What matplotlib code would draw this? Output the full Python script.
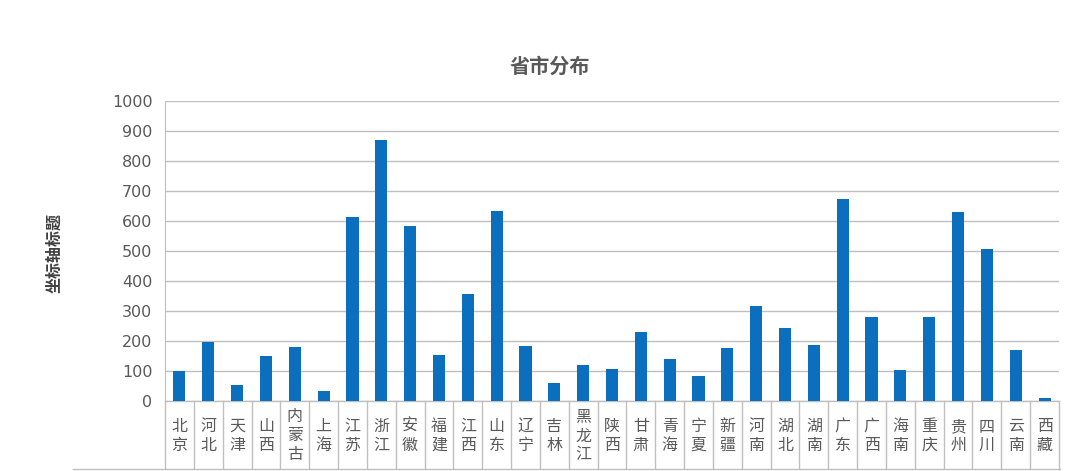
import matplotlib
matplotlib.use('Agg')
import matplotlib.pyplot as plt
from matplotlib.lines import Line2D

plt.rcParams['font.family'] = ['Noto Sans CJK SC', 'DejaVu Sans']

# provinces along the category axis
provinces = ['北京', '河北', '天津', '山西', '内蒙古', '上海', '江苏', '浙江', '安徽', '福建',
             '江西', '山东', '辽宁', '吉林', '黑龙江', '陕西', '甘肃', '青海', '宁夏', '新疆',
             '河南', '湖北', '湖南', '广东', '广西', '海南', '重庆', '贵州', '四川', '云南', '西藏']
counts = [100, 197, 53, 150, 179, 33, 615, 870, 582, 153,
          357, 633, 182, 59, 119, 106, 230, 139, 82, 177,
          316, 245, 187, 673, 279, 102, 279, 630, 507, 171, 11]
yticks = [0, 100, 200, 300, 400, 500, 600, 700, 800, 900, 1000]

W, H = 1080, 471
fig = plt.figure(figsize=(W / 100, H / 100), dpi=100)
ax = fig.add_axes([165 / W, 70 / H, 894 / W, 300 / H])

bar_color = '#0B6FBE'
grid_color = '#BFBFBF'
text_color = '#595959'

x = range(len(provinces))
ax.bar(x, counts, width=0.42, color=bar_color, zorder=3)

ax.set_xlim(-0.5, len(provinces) - 0.5)
ax.set_ylim(0, 1000)
ax.set_yticks(yticks)
ax.set_yticklabels([str(v) for v in yticks], fontsize=11.5, color=text_color,
                   family=['DejaVu Sans'])
ax.tick_params(axis='y', length=0, pad=9)
ax.set_xticks([])
ax.yaxis.grid(True, color=grid_color, linewidth=1)
ax.set_axisbelow(True)

for s in ['top', 'right', 'bottom']:
    ax.spines[s].set_visible(False)
ax.spines['left'].set_color(grid_color)

# table-like category area below the plot
band = 68 / 300
for i in range(len(provinces) + 1):
    ax.add_line(Line2D([i - 0.5, i - 0.5], [0, -band * 1000], color=grid_color,
                       linewidth=1, clip_on=False))
ax.add_line(Line2D([-0.5, len(provinces) - 0.5], [0, 0], color=grid_color,
                   linewidth=1, clip_on=False))
fig.add_artist(Line2D([73 / W, 1060 / W], [(H - 469) / H, (H - 469) / H],
                      color=grid_color, linewidth=1))

for i, name in enumerate(provinces):
    ax.text(i, -band * 1000 / 2 - 3, '\n'.join(name), ha='center', va='center',
            fontsize=11.5, color=text_color, linespacing=1.15, clip_on=False)

fig.text(550 / W, 1 - 66 / H, '省市分布', ha='center', va='center',
         fontsize=14.5, fontweight='bold', color=text_color)
fig.text(54 / W, 1 - 253 / H, '坐标轴标题', ha='center', va='center', rotation=90,
         fontsize=11.5, fontweight='bold', color='#404040')

fig.savefig('out.png', dpi=100)
